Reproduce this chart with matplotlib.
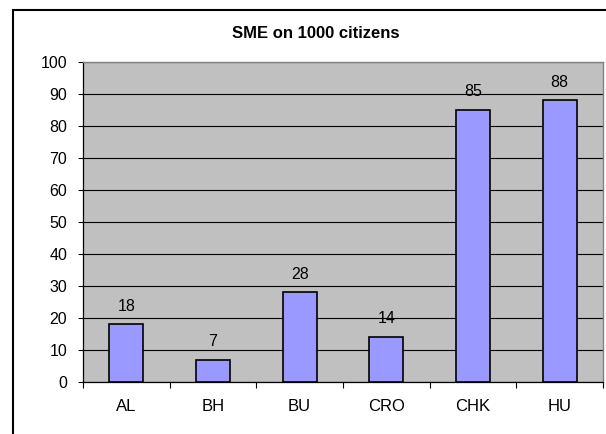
import matplotlib
matplotlib.use("Agg")
import matplotlib.pyplot as plt
from matplotlib.patches import Rectangle

categories = ["AL", "BH", "BU", "CRO", "CHK", "HU"]
values = [18, 7, 28, 14, 85, 88]
yticks = [0, 10, 20, 30, 40, 50, 60, 70, 80, 90, 100]
title = "SME on 1000 citizens"

W, H = 606, 434
fig = plt.figure(figsize=(W / 100, H / 100), dpi=100)
plt.rcParams['font.family'] = ['Liberation Sans', 'DejaVu Sans']

# outer chart border
fig.patches.append(Rectangle((12.5 / W, -0.1), 1.2, 1 - 10.5 / H + 0.1,
                             transform=fig.transFigure, fill=False,
                             edgecolor='black', linewidth=1.5))

left, right, top, bottom = 83, 603, 62, 382
ax = fig.add_axes([left / W, 1 - bottom / H, (right - left) / W, (bottom - top) / H])
ax.set_facecolor('#C0C0C0')

x = range(len(categories))
bars = ax.bar(x, values, width=0.39, color='#9999FF', edgecolor='black',
              linewidth=1.2, zorder=3)
for xi, v in zip(x, values):
    ax.annotate(str(v), (xi, v), xytext=(0, 10), textcoords='offset points',
                ha='center', va='baseline', fontsize=11.5, color='black')

ax.set_xlim(-0.5, len(categories) - 0.5)
ax.set_ylim(0, 100)
ax.set_yticks(yticks)
ax.set_yticklabels([str(t) for t in yticks], fontsize=11.5)
ax.yaxis.grid(True, color='black', linewidth=0.8, zorder=0)
ax.set_axisbelow(True)

ax.set_xticks([i + 0.5 for i in range(-1, len(categories))])
ax.set_xticklabels([])
ax.set_xticks(list(x), minor=True)
ax.set_xticklabels(categories, minor=True, fontsize=12)
ax.tick_params(axis='x', which='minor', length=0, pad=12)
ax.tick_params(axis='x', which='major', length=4, direction='out', width=0.8)
ax.tick_params(axis='y', length=3.5, direction='out', width=0.8, pad=8)

for s in ['left', 'bottom']:
    ax.spines[s].set_color('black')
    ax.spines[s].set_linewidth(0.9)
for s in ['top', 'right']:
    ax.spines[s].set_color('#808080')
    ax.spines[s].set_linewidth(1.0)

fig.text(316 / W, 1 - 33 / H, title, ha='center', va='center',
         fontsize=12, fontweight='bold')

fig.savefig("out.png", dpi=100)
